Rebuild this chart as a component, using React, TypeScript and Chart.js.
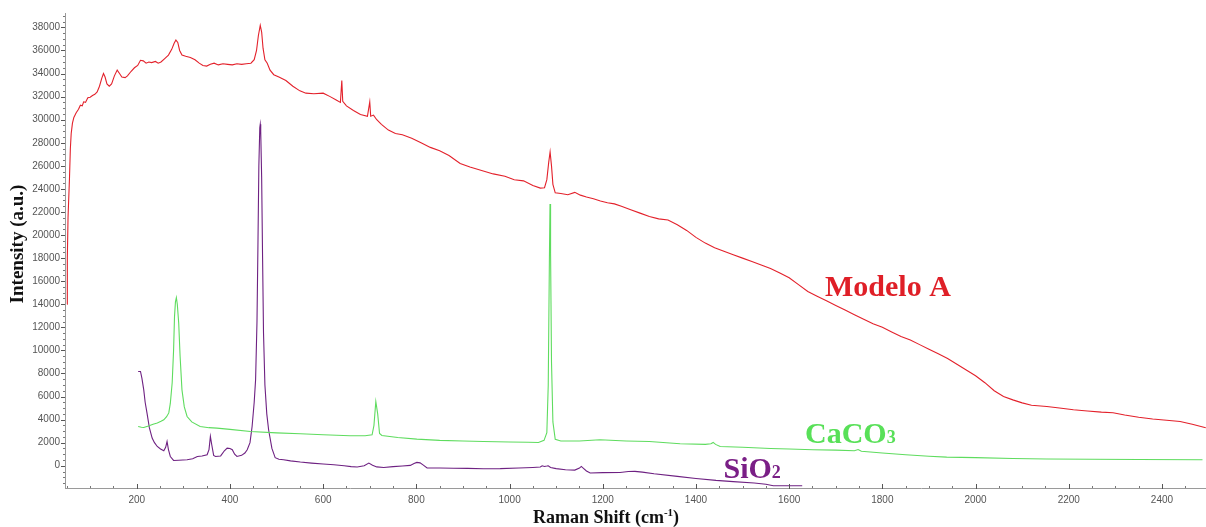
import React, { useEffect, useRef } from "react";
import { Chart, registerables } from "chart.js";

Chart.register(...registerables);

// ---------- data (Raman shift cm-1, intensity a.u.) ----------
const modeloA: [number, number][] = [
  [50.5,14000],[51,18000],[52.5,21500],[55.6,24900],[57.5,27500],[59.3,28800],[62,29700],[65,30200],[70,30600],[75,30900],[79,31250],[83,31200],[86,31550],[90,31500],[95,31900],[100,31950],[105,32100],[110,32200],[115,32400],[120,32900],[125,33600],[128.6,34000],[132,33700],[136,33100],[141,32900],[146,33100],[152,33800],[158,34300],[163,34000],[168,33700],[175,33650],[180,33800],[188,34200],[195,34500],[202,34700],[208,35150],[214,35100],[220,34900],[226,35000],[232,34950],[240,35050],[246,34900],[252,35000],[260,35300],[268,35600],[275,36100],[280,36600],[284,36900],[288,36700],[292,36000],[297,35600],[305,35500],[315,35400],[325,35200],[334,34900],[342,34700],[350,34650],[358,34800],[366,34900],[375,34750],[385,34850],[395,34800],[405,34750],[415,34850],[425,34800],[435,34850],[445,34900],[452,35200],[457,36000],[461,37300],[465,38180],[468,37600],[471,36200],[475,35200],[480,34900],[486,34300],[494,33900],[505,33700],[520,33400],[535,32900],[550,32500],[563,32300],[580,32250],[600,32300],[615,32000],[628,31700],[637,31500],[640,33400],[642,31600],[650,31200],[665,30800],[680,30450],[695,30300],[700,31540],[702,30300],[708,30400],[715,30000],[725,29600],[740,29100],[755,28800],[770,28700],[790,28400],[810,28000],[830,27600],[850,27300],[870,26900],[894,26200],[915,25900],[940,25600],[965,25300],[990,25100],[1010,24800],[1030,24700],[1050,24300],[1066,24070],[1075,24100],[1080,24800],[1084,26300],[1087,27210],[1090,26000],[1093,24400],[1098,23660],[1110,23600],[1125,23500],[1140,23700],[1152,23460],[1165,23300],[1180,23150],[1195,22950],[1210,22800],[1225,22700],[1240,22500],[1260,22200],[1280,21900],[1300,21600],[1320,21400],[1340,21300],[1360,20900],[1380,20400],[1400,19800],[1420,19300],[1440,18900],[1460,18600],[1480,18300],[1500,18000],[1520,17700],[1540,17400],[1560,17100],[1580,16700],[1600,16300],[1620,15700],[1640,15100],[1660,14700],[1680,14300],[1700,13900],[1720,13500],[1740,13100],[1760,12700],[1780,12300],[1800,12000],[1820,11600],[1840,11200],[1860,10900],[1880,10500],[1900,10100],[1920,9700],[1940,9300],[1960,8800],[1980,8300],[2000,7800],[2020,7200],[2040,6500],[2060,6000],[2080,5710],[2100,5450],[2120,5250],[2153,5130],[2180,5000],[2210,4850],[2240,4750],[2270,4650],[2295,4590],[2320,4400],[2350,4200],[2380,4050],[2410,3950],[2439,3840],[2465,3600],[2494,3300]
];

const caco3: [number, number][] = [
  [203,3400],[210,3330],[215,3320],[225,3450],[235,3600],[244,3700],[252,3850],[258,3980],[264,4250],[268.7,4580],[272,5400],[276,7190],[279,10000],[281,12930],[283,14200],[285,14570],[287,14000],[290,12380],[293,9500],[297,6580],[302,5100],[308,4270],[318,3800],[336,3400],[355,3300],[372,3260],[400,3150],[444,2970],[500,2850],[551,2770],[600,2680],[658,2600],[690,2600],[705,2680],[709,3500],[713,5570],[717,4500],[721,2800],[726,2620],[760,2450],[801,2310],[850,2200],[900,2150],[944,2100],[1000,2060],[1040,2030],[1062,2020],[1074,2200],[1080,2860],[1083,7000],[1085.5,18000],[1086.8,22700],[1088,18500],[1090,9000],[1093,3800],[1098,2300],[1110,2150],[1150,2150],[1194,2250],[1250,2150],[1300,2100],[1366,1900],[1420,1850],[1432,1900],[1437,2020],[1442,1850],[1452,1670],[1500,1600],[1560,1500],[1600,1450],[1651,1385],[1700,1350],[1740,1300],[1748,1400],[1755,1250],[1800,1100],[1850,950],[1900,820],[1938,750],[2000,700],[2080,630],[2153,580],[2250,560],[2350,540],[2487,520]
];

const sio2: [number, number][] = [
  [203,8170],[208,8170],[211,7600],[215,6580],[218,5500],[222,4560],[227,3300],[233,2400],[238,2000],[244,1670],[251,1450],[258,1300],[262,1600],[265,2100],[268,1400],[272,800],[279,460],[290,480],[308,520],[320,600],[330,800],[340,850],[351,950],[355,1400],[358,2540],[361,1800],[365,900],[369,800],[380,850],[388,1300],[394,1530],[400,1500],[405,1385],[410,1000],[415,800],[425,900],[432,1100],[437,1385],[443,2000],[447.5,3400],[452,5500],[455,7450],[458,12500],[460,19000],[462,26000],[464,29300],[465,29600],[466,29000],[468,25000],[470,18000],[472,11500],[475,7000],[479,4500],[483,3100],[490,1500],[497,700],[505,560],[515,520],[530,420],[551,320],[575,230],[600,150],[623,87],[645,0],[660,-80],[673,-110],[688,0],[698,230],[706,50],[715,-100],[730,-150],[750,-80],[770,-20],[787,30],[795,200],[801,290],[808,250],[815,50],[823,-200],[850,-200],[880,-220],[910,-230],[944,-260],[980,-250],[1020,-200],[1050,-150],[1066,-110],[1070,0],[1075,-60],[1080,-30],[1083,0],[1088,-150],[1100,-250],[1120,-350],[1140,-380],[1150,-200],[1154,-60],[1158,-200],[1165,-450],[1173,-630],[1200,-600],[1237,-580],[1255,-500],[1269,-490],[1285,-550],[1310,-700],[1360,-920],[1400,-1100],[1443,-1270],[1480,-1380],[1525,-1500],[1550,-1600],[1566,-1730],[1600,-1730],[1628,-1730]
];

const xMin = 46;
const xMax = 2494.5;
const yMin = -1930;
const yMax = 39250;
const xTickLabels = [200, 400, 600, 800, 1000, 1200, 1400, 1600, 1800, 2000, 2200, 2400];
const yTickLabels = [0, 2000, 4000, 6000, 8000, 10000, 12000, 14000, 16000, 18000, 20000, 22000, 24000, 26000, 28000, 30000, 32000, 34000, 36000, 38000];
const xMinorStep = 50;
const yMinorStep = 500;

const seriesNames = ["Modelo A", "CaCO3", "SiO2"];
const seriesColors = ["#e3212b", "#5fdc5f", "#6e2182"];

// in-plot labels: [main text, subscript, x value, baseline y value, colour]
const labels: [string, string, number, number, string][] = [
  ["Modelo A", "", 1677, 14720, "#df1f27"],
  ["CaCO", "3", 1634, 1965, "#58e058"],
  ["SiO", "2", 1459, -1040, "#7a1f86"],
];

const SERIF = "'Liberation Serif', 'Times New Roman', serif";
const SANS = "'Liberation Sans', Arial, sans-serif";

const decorPlugin = {
  id: "decor",
  afterDraw(chart: any) {
    const ctx = chart.ctx as CanvasRenderingContext2D;
    const xs = chart.scales.x;
    const ys = chart.scales.y;
    const area = chart.chartArea;
    ctx.save();
    // ticks (major at labelled values, minor between)
    ctx.lineWidth = 1;
    for (let v = Math.ceil(xMin / xMinorStep) * xMinorStep; v <= xMax; v += xMinorStep) {
      const px = Math.round(xs.getPixelForValue(v)) + 0.5;
      const major = xTickLabels.includes(v);
      ctx.strokeStyle = major ? "#555" : "#777";
      ctx.beginPath();
      ctx.moveTo(px, area.bottom - (major ? 4 : 2));
      ctx.lineTo(px, area.bottom + (major ? 1 : 0));
      ctx.stroke();
    }
    for (let v = Math.ceil(yMin / yMinorStep) * yMinorStep; v <= yMax; v += yMinorStep) {
      const py = Math.round(ys.getPixelForValue(v)) + 0.5;
      const major = yTickLabels.includes(v);
      ctx.strokeStyle = major ? "#555" : "#777";
      ctx.beginPath();
      ctx.moveTo(area.left - (major ? 4 : 2), py);
      ctx.lineTo(area.left, py);
      ctx.stroke();
    }
    // axis titles
    ctx.fillStyle = "#111";
    ctx.font = `bold 19px ${SERIF}`;
    ctx.textAlign = "center";
    ctx.textBaseline = "middle";
    ctx.save();
    ctx.translate(18, 244);
    ctx.rotate(-Math.PI / 2);
    ctx.fillText("Intensity (a.u.)", 0, 0);
    ctx.restore();

    ctx.textAlign = "left";
    ctx.textBaseline = "alphabetic";
    const partA = "Raman Shift (cm";
    const sup = "-1";
    const partB = ")";
    ctx.font = `bold 18px ${SERIF}`;
    const wA = ctx.measureText(partA).width;
    const wB = ctx.measureText(partB).width;
    ctx.font = `bold 11px ${SERIF}`;
    const wS = ctx.measureText(sup).width;
    const total = wA + wS + wB;
    let tx = 606 - total / 2;
    const base = 523;
    ctx.font = `bold 18px ${SERIF}`;
    ctx.fillText(partA, tx, base);
    tx += wA;
    ctx.font = `bold 11px ${SERIF}`;
    ctx.fillText(sup, tx, base - 7);
    tx += wS;
    ctx.font = `bold 18px ${SERIF}`;
    ctx.fillText(partB, tx, base);

    // series labels
    for (const [main, sub, lx, ly, col] of labels) {
      const px = xs.getPixelForValue(lx);
      const py = ys.getPixelForValue(ly);
      ctx.fillStyle = col;
      ctx.font = `bold 30px ${SERIF}`;
      ctx.fillText(main, px, py);
      if (sub) {
        const w = ctx.measureText(main).width;
        ctx.font = `bold 18px ${SERIF}`;
        ctx.fillText(sub, px + w, py);
      }
    }
    ctx.restore();
  },
};

export default function App() {
  const ref = useRef<HTMLCanvasElement | null>(null);
  useEffect(() => {
    if (!ref.current) return;
    const toPts = (arr: [number, number][]) => arr.map(([x, y]) => ({ x, y }));
    const allSeries = [modeloA, caco3, sio2];
    const chart = new Chart(ref.current, {
      type: "line",
      data: {
        datasets: allSeries.map((s, i) => ({
          label: seriesNames[i],
          data: toPts(s),
          borderColor: seriesColors[i],
          borderWidth: 1.1,
          pointRadius: 0,
          tension: 0,
          fill: false,
        })),
      },
      options: {
        animation: false,
        responsive: false,
        layout: { padding: { top: 13, left: 0, right: 0, bottom: 0 } },
        plugins: { legend: { display: false }, tooltip: { enabled: false } },
        scales: {
          x: {
            type: "linear",
            min: xMin,
            max: xMax,
            grid: { display: false, drawTicks: false },
            border: { display: true, color: "#9a9a9a", width: 1 },
            afterBuildTicks: (s: any) => {
              s.ticks = xTickLabels.map((v) => ({ value: v }));
            },
            ticks: {
              autoSkip: false,
              maxRotation: 0,
              padding: 6,
              color: "#555",
              font: { family: SANS, size: 10 },
              callback: (v: any) => String(v),
            },
            afterFit: (s: any) => {
              s.height = 39;
            },
          },
          y: {
            type: "linear",
            min: yMin,
            max: yMax,
            grid: { display: false, drawTicks: false },
            border: { display: true, color: "#9a9a9a", width: 1 },
            afterBuildTicks: (s: any) => {
              s.ticks = yTickLabels.map((v) => ({ value: v }));
            },
            ticks: {
              autoSkip: false,
              padding: 5,
              color: "#555",
              font: { family: SANS, size: 10 },
              callback: (v: any) => String(v),
            },
            afterFit: (s: any) => {
              s.width = 65;
            },
          },
        },
      },
      plugins: [decorPlugin],
    });
    return () => chart.destroy();
  }, []);
  return (
    <div style={{ position: "absolute", left: 0, top: 0, width: 1206, height: 527, background: "#fff" }}>
      <canvas ref={ref} width={1206} height={527} style={{ display: "block" }} />
    </div>
  );
}
